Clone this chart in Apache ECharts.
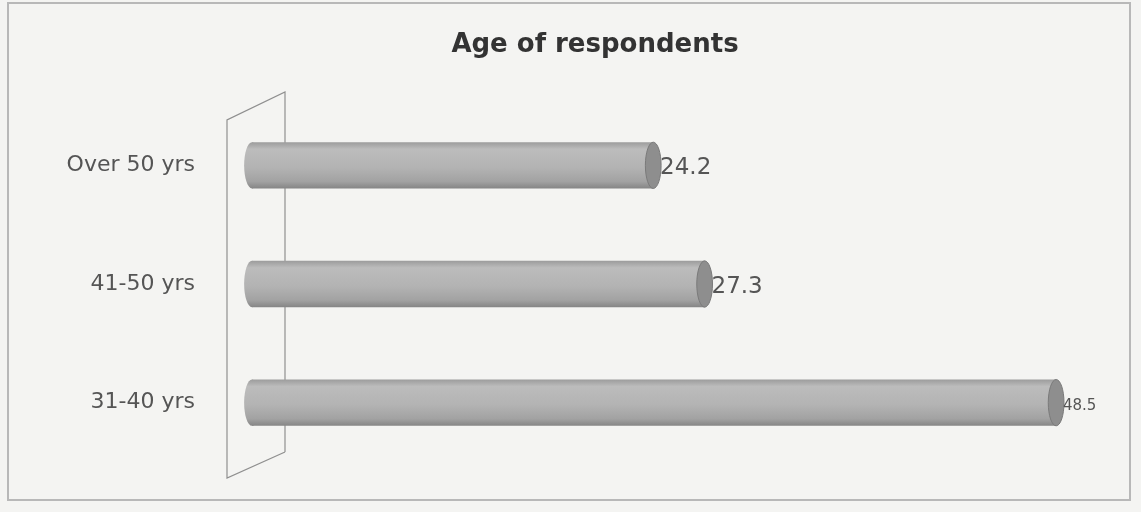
<!DOCTYPE html>
<html>
<head>
<meta charset="utf-8">
<script src="https://cdn.jsdelivr.net/npm/echarts@6/dist/echarts.min.js"></script>
<style>
    * { margin: 0; padding: 0; }
    body { background: #f3f3f1; }
    #chart { width: 1141px; height: 512px; }
</style>
</head>
<body>
<div id="chart"></div>
<script>
    // data
    var categories = ['31-40 yrs', '41-50 yrs', 'Over 50 yrs'];
    var values = [48.5, 27.3, 24.2];

    var chart = echarts.init(document.getElementById('chart'));

    // draw one cylinder per category
    function renderCylinder(params, api) {
        var idx = api.value(1);
        var val = api.value(0);
        var start = api.coord([0, idx]);
        var end = api.coord([val, idx]);
        var h = api.size([0, 1])[1] * 0.39;
        var rx = h * 0.17;
        var top = start[1] - h / 2;
        var fill = new echarts.graphic.LinearGradient(0, 0, 0, 1, [
            { offset: 0, color: '#9c9c9c' },
            { offset: 0.15, color: '#bcbcbc' },
            { offset: 0.55, color: '#b3b3b3' },
            { offset: 0.85, color: '#a2a2a2' },
            { offset: 1, color: '#858585' }
        ]);
        return {
            type: 'group',
            children: [
                {
                    type: 'ellipse',
                    shape: { cx: start[0], cy: start[1], rx: rx, ry: h / 2 },
                    style: { fill: fill }
                },
                {
                    type: 'rect',
                    shape: { x: start[0], y: top, width: end[0] - start[0], height: h },
                    style: { fill: fill }
                },
                {
                    type: 'ellipse',
                    shape: { cx: end[0], cy: end[1], rx: rx, ry: h / 2 },
                    style: { fill: '#8e8e8e', stroke: '#7a7a7a', lineWidth: 1 }
                },
                {
                    type: 'text',
                    style: {
                        x: end[0] + rx - 1,
                        y: end[1] + 3,
                        text: String(val),
                        fill: '#555',
                        font: (val > 40 ? '15px' : '23px') + ' "DejaVu Sans", sans-serif',
                        verticalAlign: 'middle',
                        align: 'left'
                    }
                }
            ]
        };
    }

    var option = {
        backgroundColor: '#f4f4f2',
        title: {
            text: 'Age of respondents',
            left: 590,
            top: 27,
            textAlign: 'center',
            textStyle: {
                fontFamily: 'DejaVu Sans',
                fontSize: 26,
                fontWeight: 'bold',
                color: '#333'
            }
        },
        graphic: [
            {
                type: 'rect',
                shape: { x: 8, y: 3, width: 1122, height: 497 },
                style: { fill: 'none', stroke: '#b8b8b8', lineWidth: 2 },
                silent: true
            },
            {
                // 3D side wall
                type: 'polyline',
                shape: { points: [[285, 452], [285, 92], [227, 120], [227, 478], [285, 452]] },
                style: { fill: 'none', stroke: '#8f8f8f', lineWidth: 1.2 },
                silent: true
            }
        ],
        grid: {
            left: 252,
            right: 60,
            top: 106,
            bottom: 50
        },
        xAxis: {
            type: 'value',
            min: 0,
            max: 50,
            show: false
        },
        yAxis: {
            type: 'category',
            data: categories,
            axisLine: { show: false },
            axisTick: { show: false },
            axisLabel: {
                margin: 57,
                fontFamily: 'DejaVu Sans',
                fontSize: 22,
                color: '#555'
            }
        },
        series: [
            {
                type: 'custom',
                renderItem: renderCylinder,
                encode: { x: 0, y: 1 },
                data: values.map(function (v, i) { return [v, i]; }),
                z: 3
            }
        ]
    };

    chart.setOption(option);
</script>
</body>
</html>
